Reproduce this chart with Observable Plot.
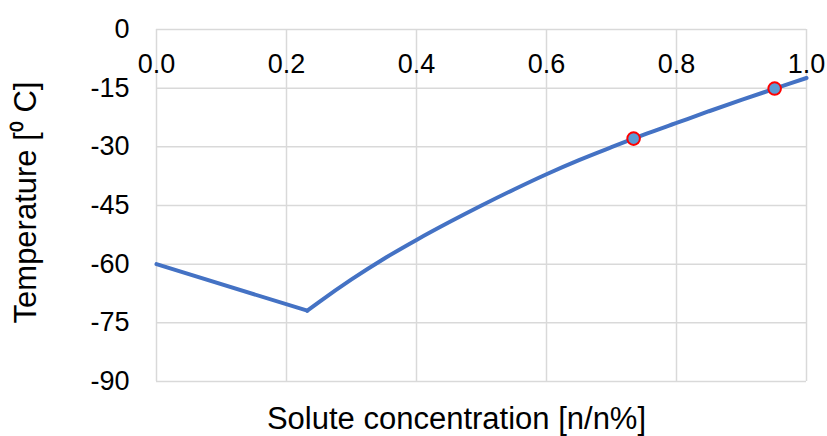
<!DOCTYPE html>
<html><head><meta charset="utf-8">
<script src="https://cdn.jsdelivr.net/npm/d3@7"></script>
<script src="https://cdn.jsdelivr.net/npm/@observablehq/plot@0.6"></script>
<style>
body{margin:0;background:#fff}
#chart svg{font-family:"Liberation Sans",Arial,sans-serif}
</style>
</head><body><div id="chart"></div>
<script>
// Liquidus, left branch (straight)
const leftX = [0, 0.232];
const leftT = [-60, -71.9];
// Liquidus, right branch (curved)
const curveX = [0.232, 0.25, 0.3, 0.35, 0.4, 0.45, 0.5, 0.55, 0.6, 0.65, 0.7, 0.75, 0.8, 0.85, 0.9, 0.95, 1.0];
const curveT = [-71.9, -69.7, -63.9, -58.6, -53.8, -49.3, -45.0, -40.9, -37.0, -33.4, -30.1, -26.9, -23.9, -20.9, -18.0, -15.2, -12.4];
// Highlighted points
const markerX = [0.734, 0.951];
const markerT = [-27.9, -15.1];
// Ticks
const xTicks = [0, 0.2, 0.4, 0.6, 0.8, 1.0];
const xTickLabels = ["0.0", "0.2", "0.4", "0.6", "0.8", "1.0"];
const yTicks = [-90, -75, -60, -45, -30, -15, 0];
const yTickLabels = ["-90", "-75", "-60", "-45", "-30", "-15", "0"];
const xTitle = "Solute concentration [n/n%]";
const yTitle = "Temperature [\u2070 C]";

const lineData = [
  ...leftX.map((x, i) => ({x, t: leftT[i], seg: "a"})),
  ...curveX.map((x, i) => ({x, t: curveT[i], seg: "b"}))
];
const markers = markerX.map((x, i) => ({x, t: markerT[i]}));
const xt = xTicks.map((x, i) => ({x, label: xTickLabels[i]}));

const grid = {stroke: "#d9d9d9", strokeOpacity: 1, strokeWidth: 1.5};
const chart = Plot.plot({
  width: 827, height: 436,
  marginLeft: 156, marginRight: 21, marginTop: 29, marginBottom: 55,
  style: {background: "#fff", color: "#000", fontFamily: "'Liberation Sans', Arial, sans-serif"},
  x: {domain: [0, 1], axis: null},
  y: {domain: [-90, 0]},
  marks: [
    Plot.gridX(xTicks, grid),
    Plot.gridY(yTicks, grid),
    Plot.axisY(yTicks, {tickSize: 0, tickPadding: 27, label: null, fontSize: 27,
      tickFormat: d => yTickLabels[yTicks.indexOf(d)]}),
    Plot.line(lineData, {x: "x", y: "t", z: "seg", curve: "monotone-x",
      stroke: "#4472c4", strokeWidth: 4, strokeLinejoin: "miter"}),
    Plot.dot(markers, {x: "x", y: "t", r: 6.3, fill: "#5b9bd5", stroke: "#ff0000", strokeWidth: 2}),
    Plot.text(xt, {x: "x", y: d => 0, text: "label", dy: 34.5, fontSize: 27, fill: "#000"})
  ]
});
const svg = d3.select(chart);
svg.append("text")
  .attr("x", 456.5).attr("y", 429)
  .attr("text-anchor", "middle")
  .attr("font-size", 31).attr("fill", "#000")
  .text(xTitle);
svg.append("text")
  .attr("transform", "translate(36,202.5) rotate(-90)")
  .attr("text-anchor", "middle")
  .attr("font-size", 31).attr("fill", "#000")
  .text(yTitle);
document.getElementById("chart").appendChild(chart);
</script>
</body></html>
